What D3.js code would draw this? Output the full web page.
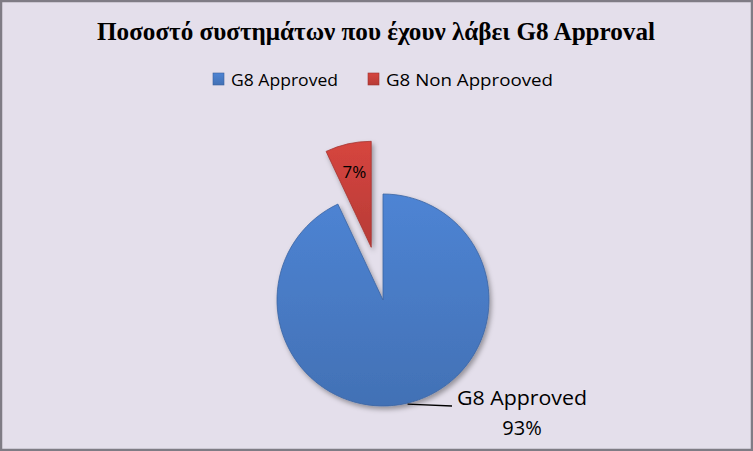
<!DOCTYPE html>
<html>
<head>
<meta charset="utf-8">
<script src="https://cdn.jsdelivr.net/npm/d3@7"></script>
<style>
body { margin: 0; background: #fff; }
svg { display: block; }
</style>
</head>
<body>
<svg id="ChartSvg" width="753" height="451"></svg>
<script>
// chart values
var Categories = ["G8 Approved", "G8 Non Approoved"];
var Values = [93, 7];
var Labels = ["93%", "7%"];
var SliceColors = ["#4779C2", "#C43F3A"];
var TitleText = "Ποσοστό συστημάτων που έχουν λάβει G8 Approval";

var W = 753, H = 451;
var svg = d3.select("#ChartSvg");
var defs = svg.append("defs");

// background and frame
svg.append("rect")
	.attr("x", 1).attr("y", 1)
	.attr("width", W - 2).attr("height", H - 2)
	.style("fill", "#E4DFEB")
	.style("stroke", "#7F7C85")
	.style("stroke-width", 2.5);

// shading for slices
var shadow = defs.append("filter").attr("id", "sliceShadow")
	.attr("x", "-20%").attr("y", "-20%").attr("width", "140%").attr("height", "140%");
shadow.append("feDropShadow")
	.attr("dx", 2).attr("dy", 3).attr("stdDeviation", 2.5)
	.attr("flood-color", "#000").attr("flood-opacity", 0.35);

SliceColors.forEach(function(c, i)
{
	var g = defs.append("linearGradient").attr("id", "grad" + i)
		.attr("x1", 0).attr("y1", 0).attr("x2", 0).attr("y2", 1);
	g.append("stop").attr("offset", "0%").attr("stop-color", d3.color(c).brighter(0.25));
	g.append("stop").attr("offset", "100%").attr("stop-color", d3.color(c).darker(0.2));
});

// title
svg.append("text")
	.attr("x", 376).attr("y", 40)
	.attr("text-anchor", "middle")
	.attr("textLength", 558)
	.attr("lengthAdjust", "spacingAndGlyphs")
	.style("font-family", "'Liberation Serif', 'DejaVu Serif', serif")
	.style("font-weight", "bold")
	.style("font-size", "26px")
	.style("fill", "#000")
	.text(TitleText);

// legend
var LegendX = [213, 368];
var LegendW = [107, 167];
var legend = svg.append("g").selectAll("g")
	.data(Categories)
	.enter()
	.append("g");

legend.append("rect")
	.attr("x", function(d, i) { return LegendX[i]; })
	.attr("y", 73)
	.attr("width", 11).attr("height", 12)
	.style("fill", function(d, i) { return "url(#grad" + i + ")"; })
	.style("stroke", function(d, i) { return d3.color(SliceColors[i]).darker(0.6); })
	.style("stroke-width", 0.6);

legend.append("text")
	.attr("x", function(d, i) { return LegendX[i] + 18; })
	.attr("y", 86)
	.attr("textLength", function(d, i) { return LegendW[i]; })
	.attr("lengthAdjust", "spacingAndGlyphs")
	.style("font-family", "'Open Sans', 'Noto Sans', sans-serif")
	.style("font-size", "17px")
	.style("fill", "#000")
	.text(function(d) { return d; });

// pie
var cx = 383, cy = 300, R = 106, Explode = 54;
var pie = d3.pie().sort(null).value(function(d) { return d; });
var arcs = pie(Values);
var arc = d3.arc().innerRadius(0).outerRadius(R);

function sliceOffset(d, i)
{
	if (i === 0) return [0, 0];
	var a = (d.startAngle + d.endAngle) / 2;
	return [Math.sin(a) * Explode, -Math.cos(a) * Explode];
}

var pieG = svg.append("g").attr("transform", "translate(" + cx + "," + cy + ")");

pieG.selectAll("path")
	.data(arcs)
	.enter()
	.append("path")
	.attr("d", arc)
	.attr("transform", function(d, i)
	{
		var o = sliceOffset(d, i);
		return "translate(" + o[0] + "," + o[1] + ")";
	})
	.style("fill", function(d, i) { return "url(#grad" + i + ")"; })
	.style("stroke", function(d, i) { return d3.color(SliceColors[i]).darker(0.5); })
	.style("stroke-width", 0.8)
	.attr("filter", "url(#sliceShadow)");

// label for small slice, inside
var small = arcs[1];
var so = sliceOffset(small, 1);
var sc = d3.arc().innerRadius(0).outerRadius(R * 1.46).centroid(small);
svg.append("text")
	.attr("x", cx + so[0] + sc[0])
	.attr("y", cy + so[1] + sc[1])
	.attr("dy", "0.36em")
	.attr("text-anchor", "middle")
	.style("font-family", "'Open Sans', 'Noto Sans', sans-serif")
	.style("font-size", "17px")
	.style("fill", "#000")
	.text(Labels[1]);

// label for large slice, outside with leader line
var leadAngle = 2.91;
var p0 = [cx + Math.sin(leadAngle) * (R + 1), cy - Math.cos(leadAngle) * (R + 1)];
svg.append("path")
	.attr("d", "M" + p0[0] + "," + p0[1] + "L452,406")
	.style("fill", "none")
	.style("stroke", "#000")
	.style("stroke-width", 1.3);

svg.append("text")
	.attr("x", 522).attr("y", 405)
	.attr("text-anchor", "middle")
	.attr("textLength", 130)
	.attr("lengthAdjust", "spacingAndGlyphs")
	.style("font-family", "'Open Sans', 'Noto Sans', sans-serif")
	.style("font-size", "20px")
	.style("fill", "#000")
	.text(Categories[0]);

svg.append("text")
	.attr("x", 522).attr("y", 435)
	.attr("text-anchor", "middle")
	.style("font-family", "'Open Sans', 'Noto Sans', sans-serif")
	.style("font-size", "20px")
	.style("fill", "#000")
	.text(Labels[0]);
</script>
</body>
</html>
